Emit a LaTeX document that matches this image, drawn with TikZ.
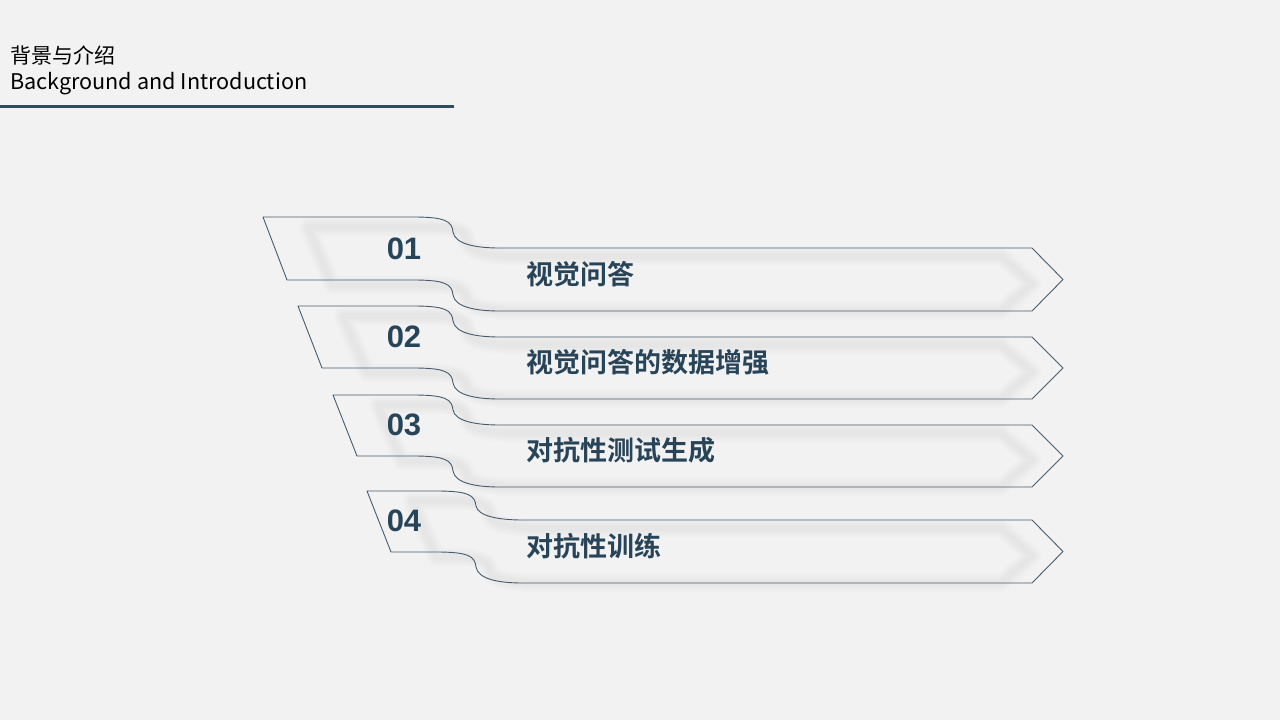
\documentclass[tikz,border=0pt]{standalone}
\usepackage{fontspec}
\setmainfont{Liberation Sans}
\newfontfamily\cjk{Noto Sans CJK SC}
\newfontfamily\cjkb{Noto Sans CJK SC Bold}
\definecolor{bgc}{RGB}{242,242,242}
\definecolor{ink}{RGB}{40,68,88}
\definecolor{edge}{RGB}{70,92,110}
\definecolor{rulec}{RGB}{47,75,94}
% #1 x0, #2 y0, #3 S-curve x, #4 tip x, #5 arrow top offset, #6 bottom-left offset, #7 arrow bottom offset
\newcommand\ribbonpath[7]{(#1,#2) -- ({#3-40},#2)
  .. controls ({#3-8},#2) and ({#3-1},{#2+4}) .. ({#3},{#2+15})
  .. controls ({#3+2},{#2+(#5)-4}) and ({#3+22},{#2+(#5)}) .. ({#3+47},{#2+(#5)})
  -- ({#4-31},{#2+(#5)}) -- ({#4},{#2+((#5)+(#7))/2}) -- ({#4-31},{#2+(#7)}) -- ({#3+47},{#2+(#7)})
  .. controls ({#3+22},{#2+(#7)}) and ({#3+2},{#2+(#7)-4}) .. ({#3},{#2+(#6)+15})
  .. controls ({#3-1},{#2+(#6)+4}) and ({#3-8},{#2+(#6)}) .. ({#3-40},{#2+(#6)})
  -- ({#1+24},{#2+(#6)}) -- cycle}
\tikzset{
  ribbon/.style={draw=edge, line width=0.9pt, line join=round},
  shade1/.style={draw=black, draw opacity=0.010, line join=round},
  numtxt/.style={text=ink, font=\fontsize{31}{31}\selectfont\bfseries, inner sep=0pt},
  labtxt/.style={text=ink, font=\cjkb\fontsize{27}{27}\selectfont, inner sep=0pt, anchor=west},
}
\begin{document}
\begin{tikzpicture}[x=1pt,y=-1pt]
\useasboundingbox (0,0) rectangle (1280,720);
\fill[bgc] (0,0) rectangle (1280,720);
% header
\node[anchor=base west, inner sep=0pt, font=\cjk\fontsize{21}{21}\selectfont] (htitle) at (10,63) {背景与介绍};
\node[anchor=base west, inner sep=0pt, font=\cjk\fontsize{21.6}{21.6}\selectfont] (hsub) at (10,89) {Background and Introduction};
\coordinate (rl) at (0,106);
\coordinate (rr) at (454,106);
\draw[rulec, line width=3pt] (rl) -- (rr);
% soft shadows
\foreach \X/\Y/\S/\A/\B/\C in {263/217/453/31/63/94, 298/306/453/31/62/93, 333/395/453/30/61/92, 367/491/476/29/61/92}{
  \foreach \w in {18,14,10,6}{
    \draw[shade1, line width=\w pt] \ribbonpath{\X+45}{\Y+10}{\S+14}{1032}{\A-2}{\B-5}{\C-10};
  }
}
% ribbons
\draw[ribbon] \ribbonpath{263}{217}{453}{1063}{31}{63}{94};
\draw[ribbon] \ribbonpath{298}{306}{453}{1063}{31}{62}{93};
\draw[ribbon] \ribbonpath{333}{395}{453}{1063}{30}{61}{92};
\draw[ribbon] \ribbonpath{367}{491}{476}{1063}{29}{61}{92};
% numbers
\node[numtxt] (n1) at (404,249) {01};
\node[numtxt] (n2) at (404,337) {02};
\node[numtxt] (n3) at (404,425) {03};
\node[numtxt] (n4) at (404,521) {04};
% labels
\node[labtxt] (l1) at (526,274) {视觉问答};
\node[labtxt] (l2) at (526,362) {视觉问答的数据增强};
\node[labtxt] (l3) at (526,450) {对抗性测试生成};
\node[labtxt] (l4) at (526,546) {对抗性训练};
\end{tikzpicture}
\end{document}
